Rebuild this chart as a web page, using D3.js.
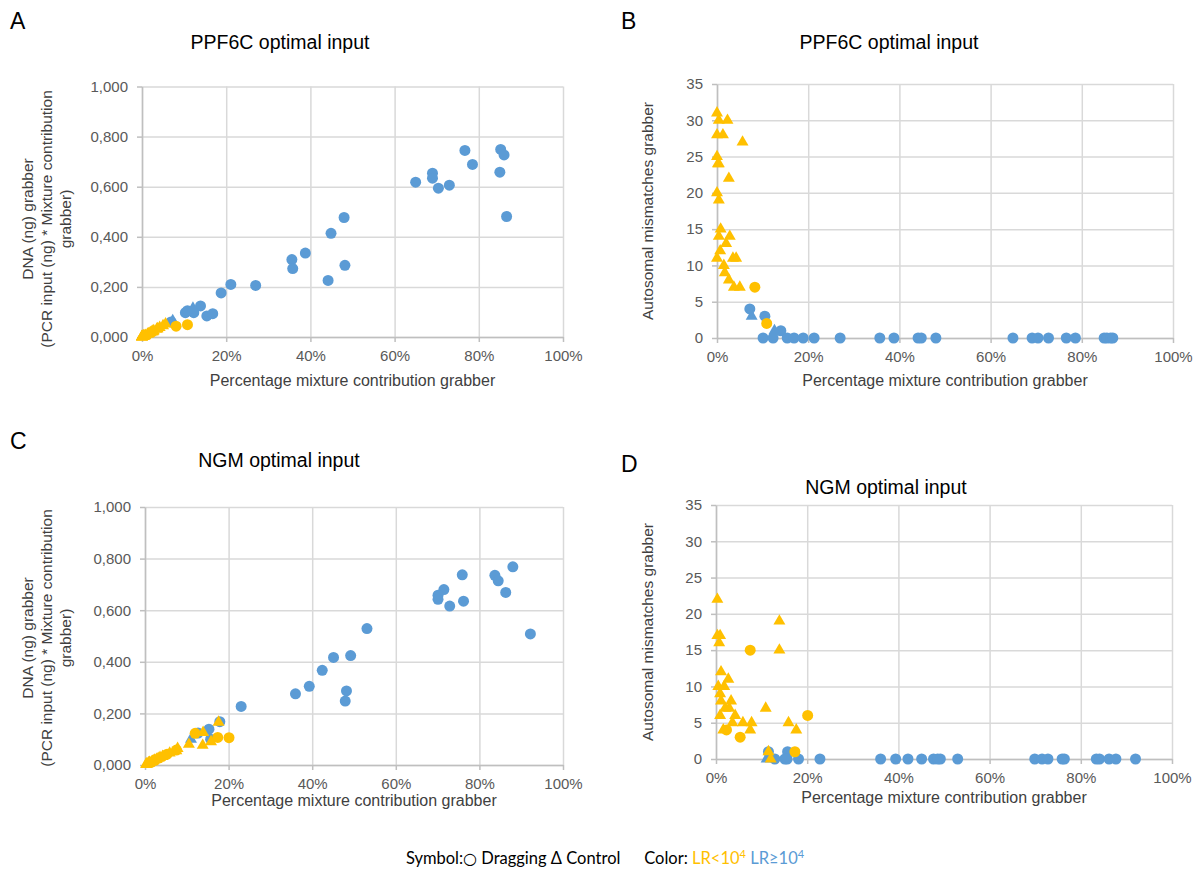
<!DOCTYPE html>
<html>
<head>
<meta charset="utf-8">
<script src="https://cdn.jsdelivr.net/npm/d3@7"></script>
<style>
  body { margin: 0; background: #fff; }
  svg { display: block; font-family: "Liberation Sans", Arial, sans-serif; }
</style>
</head>
<body>
<div class="visHolder"></div>
<script>
// ---- data (x = % mixture contribution) ----
// panel A: DNA (ng) grabber vs contribution, PPF6C
const aBlueCircles = [[85.2,0.749],[86.0,0.727],[76.7,0.745],[78.5,0.689],[85.0,0.658],[69.0,0.654],[69.0,0.634],
  [65.0,0.618],[70.4,0.594],[73.0,0.606],[86.6,0.481],[48.0,0.477],[44.9,0.414],[38.8,0.335],[35.6,0.309],
  [35.8,0.273],[48.2,0.286],[44.2,0.226],[27.0,0.206],[21.1,0.210],[18.8,0.176],[13.9,0.124],[12.3,0.097],
  [10.3,0.097],[10.8,0.105],[15.4,0.084],[16.8,0.093],[6.9,0.060]];
const aBlueTriangles = [[7.3,0.065],[12.1,0.115]];
const aYellowCircles = [[8.1,0.043],[10.8,0.049]];
const aYellowTriangles = [[0,0.000],[0.4,0.003],[2.3,0.020],[0,0.001],[1.3,0.011],[5.6,0.052],[0,0.002],[0.2,0.002],
  [0.4,0.004],[2.6,0.023],[0,0.000],[0.4,0.002],[0.8,0.006],[0.4,0.003],[2.8,0.025],[2.0,0.017],[0.7,0.005],
  [0,0.001],[3.5,0.031],[4.2,0.038],[1.5,0.012],[1.7,0.014],[2.6,0.021],[3.7,0.033],[5.0,0.045]];

// panel B: autosomal mismatches, PPF6C
const bBlueCircles = [[7.2,4],[10.5,3],[14.0,1],[10.1,0],[12.3,0],[15.4,0],[16.9,0],[18.9,0],[21.3,0],[27.0,0],
  [35.7,0],[38.8,0],[44.1,0],[44.8,0],[48.0,0],[64.9,0],[69.1,0],[70.4,0],[72.7,0],[76.6,0],[78.6,0],
  [84.9,0],[85.5,0],[86.3,0],[86.8,0]];
const bBlueTriangles = [[7.6,3],[12.6,1]];
const bYellowCircles = [[8.3,7],[10.9,2]];
const bYellowTriangles = [[0,31],[0.4,30],[2.3,30],[0,28],[1.3,28],[5.6,27],[0,25],[0.2,24],[0.4,24],[2.6,22],
  [0,20],[0.4,19],[0.8,15],[0.4,14],[2.8,14],[2.0,13],[0.7,12],[0,11],[3.5,11],[4.2,11],[1.5,10],[1.7,9],
  [2.6,8],[3.7,7],[5.0,7]];

// panel C: DNA (ng) grabber vs contribution, NGM
const cBlueCircles = [[88.0,0.768],[75.9,0.737],[83.7,0.735],[84.5,0.714],[71.5,0.680],[70.1,0.658],[70.1,0.642],
  [72.9,0.616],[76.2,0.635],[86.3,0.669],[92.2,0.508],[53.1,0.529],[49.2,0.424],[45.1,0.417],[42.4,0.367],
  [39.3,0.305],[36.0,0.276],[48.2,0.287],[47.9,0.248],[23.0,0.227],[17.9,0.168],[15.3,0.139],[12.7,0.124],
  [15.7,0.100]];
const cBlueTriangles = [[11.0,0.100]];
const cYellowCircles = [[2.3,0.018],[5.3,0.042],[7.5,0.058],[12.0,0.123],[17.4,0.107],[20.1,0.106]];
const cYellowTriangles = [[0.3,0.002],[0.3,0.004],[0.9,0.007],[0.7,0.005],[1.1,0.009],[2.7,0.021],[0.5,0.003],
  [1.8,0.014],[0.9,0.008],[1.1,0.010],[3.3,0.026],[2.0,0.016],[2.9,0.024],[0.9,0.006],[4.2,0.033],[3.6,0.029],
  [5.9,0.046],[7.8,0.064],[1.6,0.012],[2.3,0.019],[7.5,0.055],[10.5,0.080],[13.8,0.076],[13.9,0.126],
  [15.8,0.090],[17.6,0.166]];

// panel D: autosomal mismatches, NGM
const dBlueCircles = [[11.5,1],[15.7,1],[12.9,0],[15.1,0],[15.6,0],[18.1,0],[22.8,0],[36.1,0],[39.4,0],[42.1,0],
  [45.1,0],[47.7,0],[48.6,0],[49.2,0],[53.0,0],[69.9,0],[71.5,0],[72.8,0],[75.9,0],[76.4,0],[83.4,0],
  [84.1,0],[86.2,0],[87.7,0],[92.0,0]];
const dBlueTriangles = [[11.1,0]];
const dYellowCircles = [[7.5,15],[20.1,6],[5.3,3],[17.3,1],[2.3,4]];
const dYellowTriangles = [[0.3,22],[0.3,17],[0.9,17],[0.7,16],[13.9,19],[13.9,15],[1.1,12],[2.7,11],[0.5,10],
  [1.8,10],[0.9,9],[1.1,8],[3.3,8],[2.0,7],[2.9,7],[0.9,6],[4.2,6],[10.9,7],[3.6,5],[5.9,5],[7.8,5],[15.9,5],
  [1.6,4],[7.5,4],[17.6,4],[11.5,1],[12.0,0]];

const xTicks = [0, 20, 40, 60, 80, 100];
const dnaTicks = [0, 0.2, 0.4, 0.6, 0.8, 1.0];
const mismatchTicks = [0, 5, 10, 15, 20, 25, 30, 35];

const dnaLabel = ['DNA (ng) grabber', '(PCR input (ng) * Mixture contribution', 'grabber)'];
const mismatchLabel = ['Autosomal mismatches grabber'];
const xLabel = 'Percentage mixture contribution grabber';

const blue = '#5b9bd5';
const yellow = '#ffc000';

const w = 1201, h = 871;

const svg = d3.select('.visHolder')
  .append('svg')
  .attr('width', w)
  .attr('height', h)
  .attr('viewBox', `0 0 ${w} ${h}`);

const commaFmt = d => d3.format('.3f')(d).replace('.', ',');

const panels = [
  {letter: 'A', lx: 10, ly: 29, title: 'PPF6C optimal input', tx: 280, ty: 49,
   left: 142, right: 563, top: 86.5, bottom: 337, yMax: 1, yTicks: dnaTicks, yFmt: commaFmt,
   yLabel: dnaLabel, ylx: 28, yly: 219, xly: 386,
   series: [aBlueCircles, aBlueTriangles, aYellowCircles, aYellowTriangles]},
  {letter: 'B', lx: 621, ly: 29, title: 'PPF6C optimal input', tx: 889, ty: 49,
   left: 717, right: 1173, top: 84, bottom: 338, yMax: 35, yTicks: mismatchTicks, yFmt: d3.format('d'),
   yLabel: mismatchLabel, ylx: 648, yly: 211, xly: 386,
   series: [bBlueCircles, bBlueTriangles, bYellowCircles, bYellowTriangles]},
  {letter: 'C', lx: 10, ly: 449, title: 'NGM optimal input', tx: 279, ty: 467,
   left: 145, right: 563, top: 507, bottom: 765, yMax: 1, yTicks: dnaTicks, yFmt: commaFmt,
   yLabel: dnaLabel, ylx: 28, yly: 638, xly: 806,
   series: [cBlueCircles, cBlueTriangles, cYellowCircles, cYellowTriangles]},
  {letter: 'D', lx: 621, ly: 472, title: 'NGM optimal input', tx: 886, ty: 494,
   left: 716, right: 1172, top: 505, bottom: 759, yMax: 35, yTicks: mismatchTicks, yFmt: d3.format('d'),
   yLabel: mismatchLabel, ylx: 648, yly: 632, xly: 803,
   series: [dBlueCircles, dBlueTriangles, dYellowCircles, dYellowTriangles]}
];

const drawPanel = (p) => {
  const g = svg.append('g');

  const xScale = d3.scaleLinear().domain([0, 100]).range([p.left, p.right]);
  const yScale = d3.scaleLinear().domain([0, p.yMax]).range([p.bottom, p.top]);

  // gridlines
  g.append('g')
    .attr('transform', `translate(0, ${p.bottom})`)
    .call(d3.axisBottom(xScale).tickValues(xTicks).tickSize(-(p.bottom - p.top)).tickFormat(''))
    .call(s => s.select('.domain').remove())
    .call(s => s.selectAll('line').attr('stroke', '#d9d9d9').attr('stroke-width', 1.5));
  g.append('g')
    .attr('transform', `translate(${p.left}, 0)`)
    .call(d3.axisLeft(yScale).tickValues(p.yTicks).tickSize(-(p.right - p.left)).tickFormat(''))
    .call(s => s.select('.domain').remove())
    .call(s => s.selectAll('line').attr('stroke', '#d9d9d9').attr('stroke-width', 1.5));

  // axes
  const xAxis = g.append('g')
    .attr('transform', `translate(0, ${p.bottom})`)
    .call(d3.axisBottom(xScale).tickValues(xTicks).tickSize(5).tickSizeOuter(0).tickPadding(8)
      .tickFormat(d => d + '%'));
  const yAxis = g.append('g')
    .attr('transform', `translate(${p.left}, 0)`)
    .call(d3.axisLeft(yScale).tickValues(p.yTicks).tickSize(5).tickSizeOuter(0).tickPadding(9)
      .tickFormat(p.yFmt));
  [xAxis, yAxis].forEach(a => {
    a.select('.domain').attr('stroke', '#bfbfbf').attr('stroke-width', 1.5);
    a.selectAll('line').attr('stroke', '#bfbfbf').attr('stroke-width', 1.5);
    a.selectAll('text').attr('fill', '#595959').style('font-size', '15px')
      .style('font-family', '"Liberation Sans", Arial, sans-serif');
  });

  // markers: blue circles, blue triangles, yellow circles, yellow triangles
  const colors = [blue, blue, yellow, yellow];
  const shapes = [d3.symbolCircle, d3.symbolTriangle, d3.symbolCircle, d3.symbolTriangle];
  const sizes = [95, 62, 95, 62];
  p.series.forEach((data, i) => {
    g.append('g')
      .selectAll('path')
      .data(data)
      .join('path')
      .attr('d', d3.symbol().type(shapes[i]).size(sizes[i]))
      .attr('transform', d => `translate(${xScale(d[0])}, ${yScale(d[1])})`)
      .attr('fill', colors[i]);
  });

  // letter and title
  svg.append('text').attr('x', p.lx).attr('y', p.ly).text(p.letter)
    .style('font-size', '23px').attr('fill', '#000');
  svg.append('text').attr('x', p.tx).attr('y', p.ty).text(p.title)
    .attr('text-anchor', 'middle').style('font-size', '19.5px').attr('fill', '#000');

  // axis titles
  svg.append('text').attr('x', (p.left + p.right) / 2).attr('y', p.xly).text(xLabel)
    .attr('text-anchor', 'middle').style('font-size', '16px').attr('fill', '#404040');
  const yl = svg.append('text')
    .attr('transform', `translate(${p.ylx}, ${p.yly}) rotate(-90)`)
    .attr('text-anchor', 'middle').style('font-size', '15.5px').attr('fill', '#404040');
  p.yLabel.forEach((line, i) => {
    yl.append('tspan').attr('x', 0).attr('y', i * 19 + 5).text(line);
  });
};

panels.forEach(drawPanel);

// legend at the bottom
const legend = svg.append('text')
  .attr('x', 605).attr('y', 864)
  .attr('text-anchor', 'middle')
  .style('font-family', 'Lato, "Open Sans", sans-serif')
  .style('font-size', '16.5px')
  .attr('fill', '#000');
legend.append('tspan').text('Symbol:');
legend.append('tspan').text('\u25CB').style('font-family', '"DejaVu Sans", sans-serif').style('font-size', '16px');
legend.append('tspan').text(' Dragging \u0394 Control');
legend.append('tspan').attr('dx', 24).text('Color: ');
legend.append('tspan').text('LR<10').attr('fill', yellow);
legend.append('tspan').text('4').attr('fill', yellow).attr('dy', -6).style('font-size', '11px');
legend.append('tspan').text(' LR\u226510').attr('fill', blue).attr('dy', 6);
legend.append('tspan').text('4').attr('fill', blue).attr('dy', -6).style('font-size', '11px');
</script>
</body>
</html>
